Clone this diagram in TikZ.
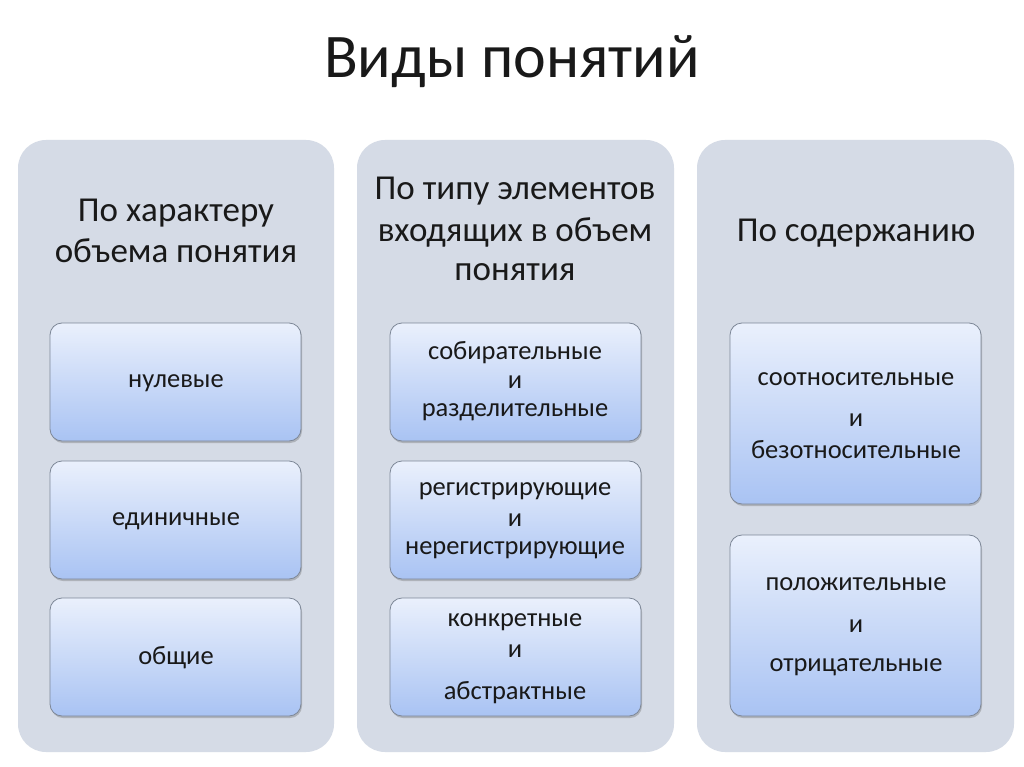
\documentclass[tikz,border=0pt]{standalone}
\usepackage{fontspec}
\setmainfont{Carlito}
\usetikzlibrary{shadows}
\definecolor{colfill}{HTML}{D5DBE6}
\definecolor{boxtop}{HTML}{EAF0FC}
\definecolor{boxbot}{HTML}{A9C3F3}
\definecolor{boxline}{HTML}{7D8797}
\tikzset{
  col/.style={fill=colfill, draw=none, rounded corners=28pt},
  inbox/.style={top color=boxtop, bottom color=boxbot, draw=boxline, line width=0.8pt, rounded corners=12pt,
    drop shadow={shadow xshift=1pt, shadow yshift=-2pt, opacity=0.35, fill=black!60}},
  head/.style={font=\fontsize{35}{42}\selectfont, text=black!90, align=center},
  txt/.style={font=\fontsize{26.5}{30}\selectfont, text=black!90, anchor=center}
}
\begin{document}
\begin{tikzpicture}[x=1pt,y=-1pt]
\useasboundingbox (0,0) rectangle (1024,767);
\fill[white] (0,0) rectangle (1024,767);
\node[font=\fontsize{62}{72}\selectfont, text=black!90] (title) at (512,62) {Виды понятий};
% columns
\path[col] (18,140) rectangle (334,752);
\path[col] (357,140) rectangle (674,752);
\path[col] (697,140) rectangle (1014,752);
% headers
\node[txt,head] (h1a) at (176,213) {По характеру};
\node[txt,head] (h1b) at (176,251) {объема понятия};
\node[txt,head] (h2a) at (515,191) {По типу элементов};
\node[txt,head] (h2b) at (515,232) {входящих в объем};
\node[txt,head] (h2c) at (515,272) {понятия};
\node[txt,head] (h3a) at (856,233) {По содержанию};
% boxes col1
\path[inbox] (50,323) rectangle (301,441);
\path[inbox] (50,461) rectangle (301,579);
\path[inbox] (50,598) rectangle (301,716);
\node[txt] (a1) at (176,383) {нулевые};
\node[txt] (a2) at (176,521) {единичные};
\node[txt] (a3) at (176,658) {общие};
% boxes col2
\path[inbox] (390,323) rectangle (641,441);
\path[inbox] (390,461) rectangle (641,579);
\path[inbox] (390,598) rectangle (641,716);
\node[txt] (b1a) at (515,353) {собирательные};
\node[txt] (b1b) at (515,382) {и};
\node[txt] (b1c) at (515,412) {разделительные};
\node[txt] (b2a) at (515,491) {регистрирующие};
\node[txt] (b2b) at (515,520) {и};
\node[txt] (b2c) at (515,550) {нерегистрирующие};
\node[txt] (b3a) at (515,622) {конкретные};
\node[txt] (b3b) at (515,651) {и};
\node[txt] (b3c) at (515,693) {абстрактные};
% boxes col3
\path[inbox] (730,323) rectangle (981,504);
\path[inbox] (730,535) rectangle (981,716);
\node[txt] (c1a) at (856,379) {соотносительные};
\node[txt] (c1b) at (856,420) {и};
\node[txt] (c1c) at (856,450) {безотносительные};
\node[txt] (c2a) at (856,584) {положительные};
\node[txt] (c2b) at (856,626) {и};
\node[txt] (c2c) at (856,667) {отрицательные};
\end{tikzpicture}
\end{document}
